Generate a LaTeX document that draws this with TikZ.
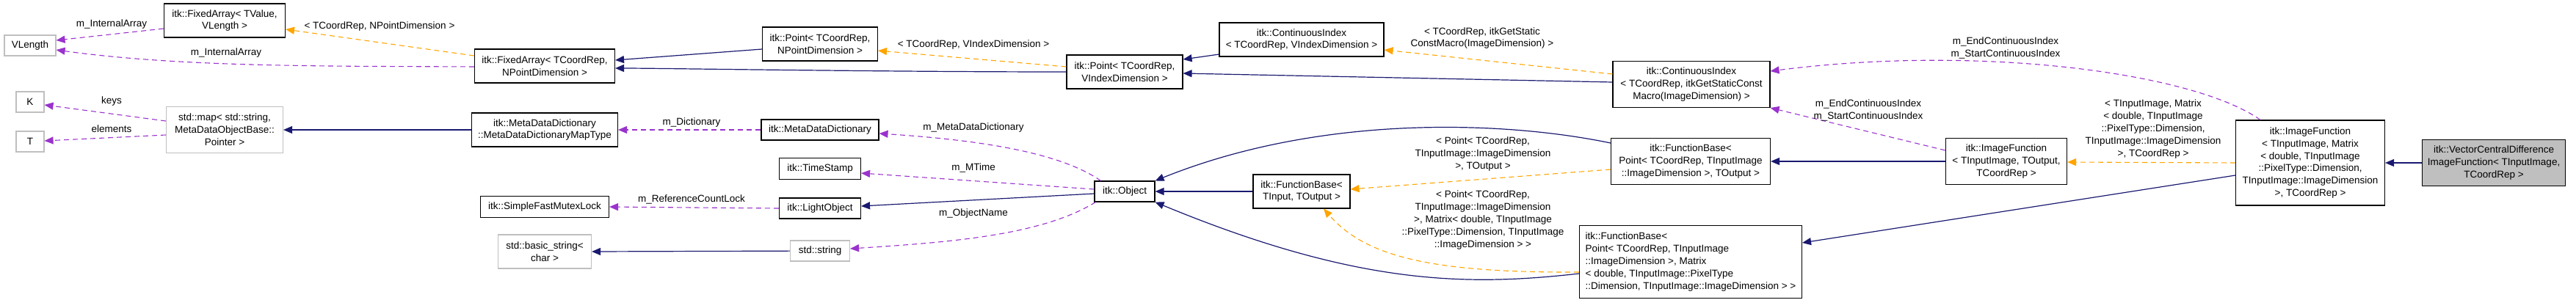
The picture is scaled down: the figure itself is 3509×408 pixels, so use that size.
\documentclass[tikz,border=0pt]{standalone}
\usepackage{fontspec}
\setmainfont{Liberation Sans}
\usetikzlibrary{arrows.meta}
\definecolor{navy}{RGB}{25,25,112}
\definecolor{dpurple}{RGB}{154,50,205}
\definecolor{dorange}{RGB}{255,165,0}
\definecolor{gborder}{RGB}{191,191,191}
\begin{document}
\begin{tikzpicture}[x=1pt,y=-1pt,
  every node/.style={font=\fontsize{13.5}{16.9}\selectfont, inner sep=1pt},
  box/.style={draw=black, line width=1.1pt, fill=white, align=center, inner sep=3pt},
  gbox/.style={box, draw=gborder},
  inh/.style={draw=navy, line width=1.2pt, -{Triangle[length=12pt,width=10pt]}},
  use/.style={draw=dpurple, line width=1.1pt, dash pattern=on 7pt off 5pt, -{Triangle[length=12pt,width=10pt]}},
  tmpl/.style={draw=dorange, line width=1.1pt, dash pattern=on 7pt off 5pt, -{Triangle[length=12pt,width=10pt]}},
  lbl/.style={align=center, fill=none}]
\useasboundingbox (0,0) rectangle (3509,408);
% nodes
\node[gbox, minimum width=70pt, minimum height=28pt] (vl) at (41,62) {VLength};
\node[box, minimum width=165pt, minimum height=46pt] (fa1) at (306,28) {itk::FixedArray< TValue,\\VLength >};
\node[box, minimum width=191pt, minimum height=46pt] (fa2) at (742,90) {itk::FixedArray< TCoordRep,\\NPointDimension >};
\node[gbox, minimum width=38pt, minimum height=28pt] (k) at (41,139) {K};
\node[gbox, minimum width=38pt, minimum height=28pt] (t) at (41,193) {T};
\node[gbox, minimum width=159pt, minimum height=63pt] (map) at (306,177) {std::map< std::string,\\MetaDataObjectBase::\\Pointer >};
\node[box, minimum width=199pt, minimum height=46pt] (mddmt) at (742,177) {itk::MetaDataDictionary\\::MetaDataDictionaryMapType};
\node[box, minimum width=175pt, minimum height=29pt] (mutex) at (742,282) {itk::SimpleFastMutexLock};
\node[gbox, minimum width=127pt, minimum height=46pt] (bstr) at (742,343) {std::basic\_string<\\char >};
\node[box, minimum width=157pt, minimum height=46pt] (ptn) at (1117,60) {itk::Point< TCoordRep,\\NPointDimension >};
\node[box, minimum width=158pt, minimum height=46pt] (ptv) at (1532,98) {itk::Point< TCoordRep,\\VIndexDimension >};
\node[box, minimum width=160pt, minimum height=28pt] (mdd) at (1117,177) {itk::MetaDataDictionary};
\node[box, minimum width=111pt, minimum height=29pt] (ts) at (1117,230) {itk::TimeStamp};
\node[box, minimum width=111pt, minimum height=28pt] (lo) at (1117,284) {itk::LightObject};
\node[gbox, minimum width=81pt, minimum height=28pt] (str) at (1117,342) {std::string};
\node[box, minimum width=82pt, minimum height=28pt] (obj) at (1532,261) {itk::Object};
\node[box, minimum width=224pt, minimum height=46pt] (ci1) at (1773,54) {itk::ContinuousIndex\\< TCoordRep, VIndexDimension >};
\node[box, minimum width=214pt, minimum height=63pt] (ci2) at (2304,115) {itk::ContinuousIndex\\< TCoordRep, itkGetStaticConst\\Macro(ImageDimension) >};
\node[box, minimum width=217pt, minimum height=63pt] (fbp) at (2303,220) {itk::FunctionBase<\\Point< TCoordRep, TInputImage\\::ImageDimension >, TOutput >};
\node[box, minimum width=132pt, minimum height=46pt] (fbt) at (1773,261) {itk::FunctionBase<\\TInput, TOutput >};
\node[box, minimum width=303pt, minimum height=99pt, align=left] (fbm) at (2303,357) {itk::FunctionBase<\\ Point< TCoordRep, TInputImage\\::ImageDimension >, Matrix\\< double, TInputImage::PixelType\\::Dimension, TInputImage::ImageDimension > >};
\node[box, minimum width=165pt, minimum height=63pt] (if1) at (2733,220) {itk::ImageFunction\\< TInputImage, TOutput,\\TCoordRep >};
\node[box, minimum width=203pt, minimum height=116pt] (ifm) at (3147,222) {itk::ImageFunction\\< TInputImage, Matrix\\< double, TInputImage\\::PixelType::Dimension,\\TInputImage::ImageDimension\\>, TCoordRep >};
\node[box, fill=gborder, minimum width=195pt, minimum height=63pt] (vcd) at (3397,222) {itk::VectorCentralDifference\\ImageFunction< TInputImage,\\TCoordRep >};
\coordinate (fbtb) at (1803,284.5);
% edges
\draw[use] (fa1.west |- 0,39) -- (vl.east |- 0,55);
\draw[use] (fa2.west |- 0,91) .. controls (450,90) and (250,92) .. (vl.east |- 0,68);
\node[lbl] (l1) at (152,33) {m\_InternalArray};
\node[lbl] (l2) at (308,72) {m\_InternalArray};
\draw[tmpl] (fa2.west |- 0,76) -- (fa1.east |- 0,40);
\node[lbl] (l3) at (517,36) {< TCoordRep, NPointDimension >};
\draw[inh] (ptn.west |- 0,67) -- (fa2.east |- 0,82);
\draw[inh] (ptv.west |- 0,98) .. controls (1200,98) and (900,93) .. (fa2.east |- 0,93);
\draw[tmpl] (ptv.west |- 0,91) -- (ptn.east |- 0,69);
\node[lbl] (l4) at (1326,61) {< TCoordRep, VIndexDimension >};
\draw[inh] (ci1.west |- 0,74) -- (ptv.east |- 0,81);
\draw[inh] (ci2.west |- 0,112) -- (ptv.east |- 0,100);
\draw[tmpl] (ci2.west |- 0,101) -- (ci1.east |- 0,68);
\node[lbl] (l5) at (2019,52) {< TCoordRep, itkGetStatic\\ConstMacro(ImageDimension) >};
\draw[use] (map.west |- 0,165) -- (k.east |- 0,143);
\draw[use] (map.west |- 0,184) -- (t.east |- 0,192);
\node[lbl] (l6) at (152,138) {keys};
\node[lbl] (l7) at (152,176) {elements};
\draw[inh] (mddmt) -- (map);
\draw[use] (mdd) -- (mddmt);
\node[lbl] (l8) at (942,167) {m\_Dictionary};
\draw[use] (obj.north west) ++(9,0) coordinate (o1) (o1) .. controls (1440,205) and (1320,190) .. (mdd.east |- 0,182);
\node[lbl] (l9) at (1326,174) {m\_MetaDataDictionary};
\draw[use] (obj.west |- 0,258) -- (ts.east |- 0,236);
\node[lbl] (l10) at (1326,229) {m\_MTime};
\draw[inh] (obj.west |- 0,264) -- (lo.east |- 0,281);
\draw[use] (lo.west |- 0,284) -- (mutex.east |- 0,282);
\node[lbl] (l11) at (942,272) {m\_ReferenceCountLock};
\draw[use] (obj.south west) ++(2,0) coordinate (o2) (o2) .. controls (1420,320) and (1300,330) .. (str.east |- 0,339);
\node[lbl] (l12) at (1326,291) {m\_ObjectName};
\draw[inh] (str) -- (bstr.east |- 0,343);
\draw[inh] (fbt) -- (obj);
\draw[inh] (fbp.west |- 0,195) .. controls (2050,165) and (1800,155) .. (obj.north east);
\draw[inh] (fbm.west |- 0,373) .. controls (2000,390) and (1850,390) .. (obj.south east);
\draw[tmpl] (fbp.west |- 0,231) -- (fbt.east |- 0,258);
\node[lbl] (l13) at (2020,210) {< Point< TCoordRep,\\TInputImage::ImageDimension\\>, TOutput >};
\draw[tmpl] (fbm.west |- 0,371) .. controls (1950,372) and (1860,350) .. (fbtb);
\node[lbl] (l14) at (2020,300) {< Point< TCoordRep,\\TInputImage::ImageDimension\\>, Matrix< double, TInputImage\\::PixelType::Dimension, TInputImage\\::ImageDimension > >};
\draw[inh] (if1) -- (fbp);
\draw[use] (if1.west |- 0,205) -- (ci2.south east);
\node[lbl] (l15) at (2545,150) {m\_EndContinuousIndex\\m\_StartContinuousIndex};
\draw[use] (ifm.north west) ++(34,0) coordinate (o3) (o3) .. controls (2990,100) and (2700,60) .. (ci2.east |- 0,97);
\node[lbl] (l16) at (2732,65) {m\_EndContinuousIndex\\m\_StartContinuousIndex};
\draw[tmpl] (ifm.west |- 0,222) -- (if1.east |- 0,221);
\node[lbl] (l17) at (2933,176) {< TInputImage, Matrix\\< double, TInputImage\\::PixelType::Dimension,\\TInputImage::ImageDimension\\>, TCoordRep >};
\draw[inh] (ifm.west |- 0,239) -- (fbm.east |- 0,331);
\draw[inh] (vcd) -- (ifm);
\end{tikzpicture}
\end{document}
